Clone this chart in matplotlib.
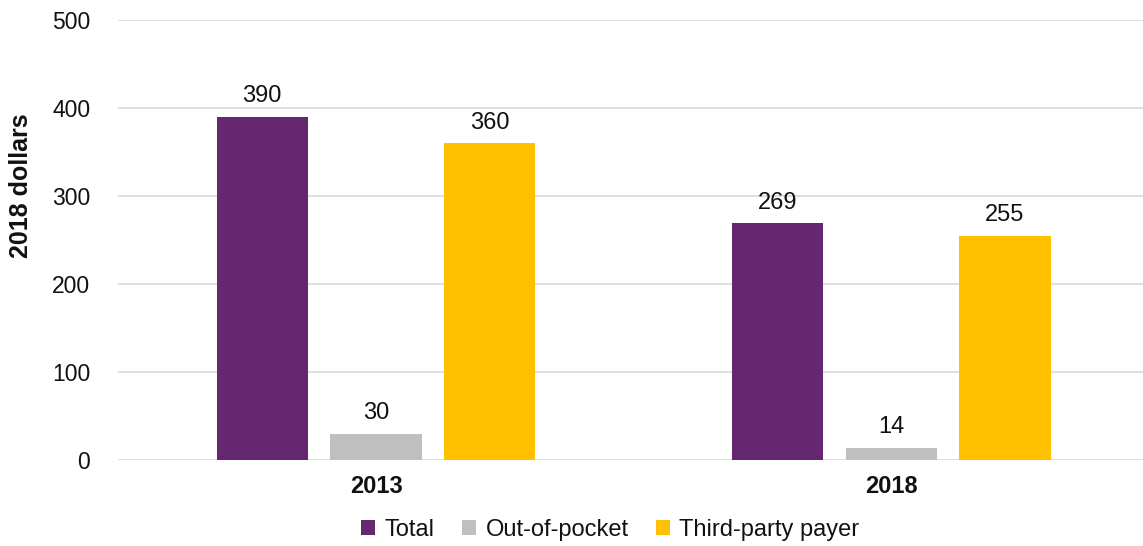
import numpy as np
import matplotlib.pyplot as plt

plt.rcParams['font.family'] = ['Liberation Sans', 'DejaVu Sans']

years = ['2013', '2018']
series = ['Total', 'Out-of-pocket', 'Third-party payer']
total = [390, 269]
out_of_pocket = [30, 14]
third_party = [360, 255]
colors = ['#662771', '#bfbfbf', '#ffc000']

fig = plt.figure(figsize=(11.43, 5.46), dpi=100)
ax = fig.add_axes([118/1143, 86/546, 1 - 118/1143, 440/546])

x = np.arange(len(years))
w = 0.177
step = 0.221
for i, (vals, name, c) in enumerate(zip([total, out_of_pocket, third_party], series, colors)):
    pos = x + (i - 1) * step
    ax.bar(pos, vals, width=w, color=c, label=name, zorder=3)
    for p, v in zip(pos, vals):
        ax.text(p, v + 11, str(v), ha='center', va='bottom', fontsize=17, color='#111111')

ax.set_xlim(-0.501, 1.489)
ax.set_ylim(0, 500)
ax.set_yticks(range(0, 501, 100))
ax.yaxis.grid(True, color='#d9d9d9', linewidth=1.2, zorder=0)
for s in ax.spines.values():
    s.set_visible(False)
ax.tick_params(axis='y', length=0, pad=20, labelsize=16.5, labelcolor='#111111')
ax.tick_params(axis='x', length=0, pad=11, labelsize=17, labelcolor='#111111')
ax.set_xticks(x)
ax.set_xticklabels(years, fontweight='bold')
ax.set_ylabel('2018 dollars', fontsize=18, fontweight='bold', color='#111111')
ax.yaxis.set_label_coords(-0.083, 0.623)

fig.legend(loc='center', bbox_to_anchor=(0.534, 1 - 530/546), ncol=3, frameon=False,
           fontsize=17, handlelength=0.6, handleheight=0.6, handletextpad=0.4, columnspacing=1.15,
           labelcolor='#111111')

plt.savefig('out.png', dpi=100)
